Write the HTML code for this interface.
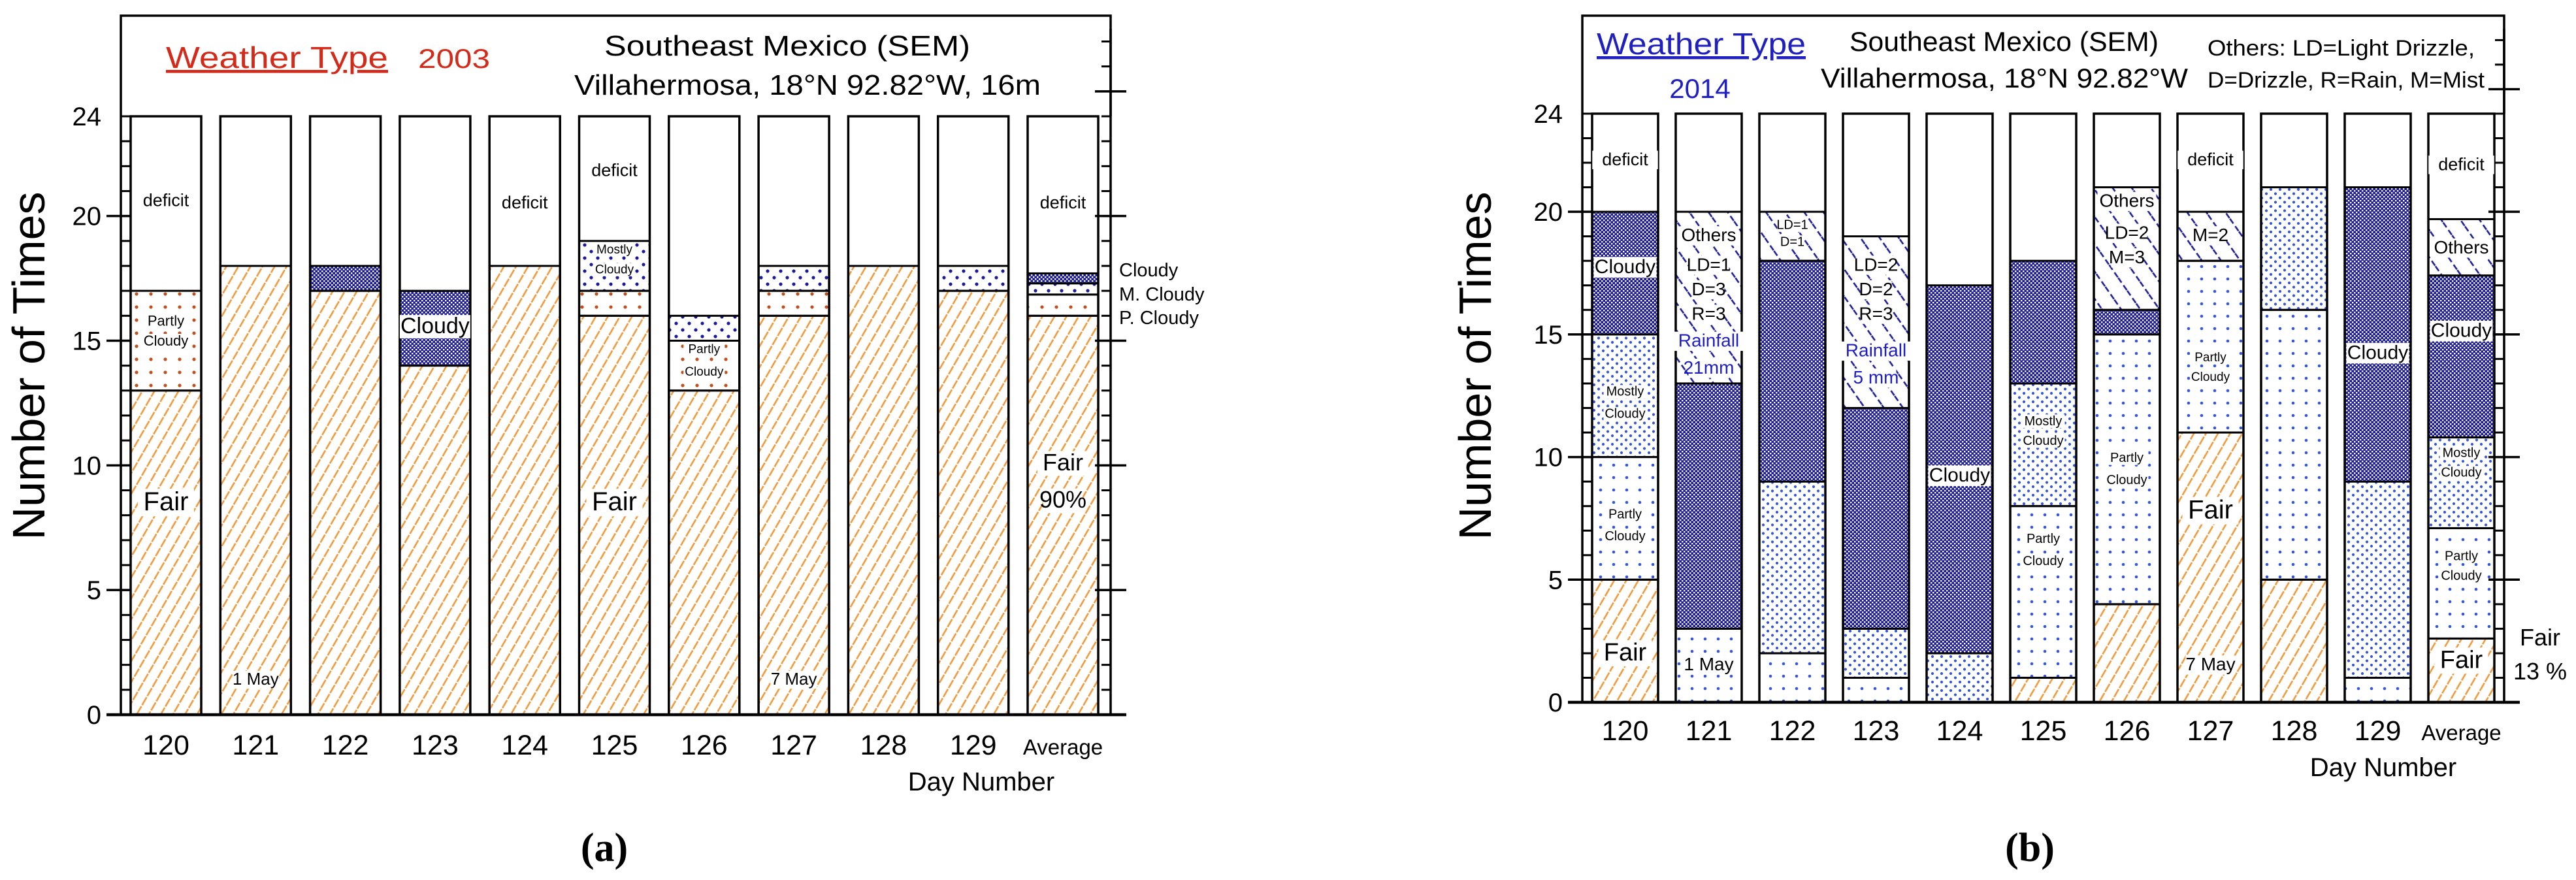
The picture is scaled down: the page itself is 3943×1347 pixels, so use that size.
<!DOCTYPE html>
<html><head><meta charset="utf-8"><style>
html,body{margin:0;padding:0;background:#fff;}
svg{display:block;font-family:"Liberation Sans",sans-serif;}
</style></head><body>
<svg id="fig" width="3943" height="1347" viewBox="0 0 3943 1347" xmlns="http://www.w3.org/2000/svg">
<defs>
<pattern id="pFair" patternUnits="userSpaceOnUse" width="16" height="16" patternTransform="rotate(30)"><line x1="8" y1="0" x2="8" y2="16" stroke="#ef9a3c" stroke-width="2.6" stroke-dasharray="10 2"/></pattern>
<pattern id="pPCa" patternUnits="userSpaceOnUse" width="22" height="20"><circle cx="11" cy="10" r="2.6" fill="#c2501e"/></pattern>
<pattern id="pMCa" patternUnits="userSpaceOnUse" width="20" height="20"><circle cx="5" cy="5" r="2.6" fill="#1a1aa0"/><circle cx="15" cy="15" r="2.6" fill="#1a1aa0"/></pattern>
<pattern id="pCl" patternUnits="userSpaceOnUse" width="6" height="6"><rect width="6" height="6" fill="#1c1c98"/><rect x="0" y="0" width="2.4" height="2.4" fill="#fff"/><rect x="3" y="3" width="2.4" height="2.4" fill="#fff"/></pattern>
<pattern id="pPCb" patternUnits="userSpaceOnUse" width="20" height="19"><circle cx="10" cy="9" r="2.3" fill="#3556d8"/></pattern>
<pattern id="pMCb" patternUnits="userSpaceOnUse" width="14" height="13"><circle cx="4" cy="4" r="2.1" fill="#3556d8"/><circle cx="11" cy="10.5" r="2.1" fill="#3556d8"/></pattern>
<pattern id="pOth" patternUnits="userSpaceOnUse" width="24" height="24" patternTransform="rotate(-35)"><line x1="12" y1="0" x2="12" y2="24" stroke="#1e1e96" stroke-width="2.6" stroke-dasharray="9 5"/></pattern>
</defs>
<g id="panelA"></g>
<g id="panelB"></g>
</svg>
<script>
// ---- data: panel (a) 2003 ----
const daysA = ["120","121","122","123","124","125","126","127","128","129","Average"];
const fairA = [13,18,17,14,18,16,13,16,18,17,16];
const partlyA = [4,0,0,0,0,1,2,1,0,0,0.85];
const mostlyA = [0,0,0,0,0,2,1,1,0,1,0.45];
const cloudyA = [0,0,1,3,0,0,0,0,0,0,0.4];
// ---- data: panel (b) 2014 ----
const daysB = ["120","121","122","123","124","125","126","127","128","129","Average"];
const fairB = [5,0,0,0,0,1,4,11,5,0,2.6];
const partlyB = [5,3,2,1,0,7,11,7,11,1,4.5];
const mostlyB = [5,0,7,2,2,5,0,0,5,8,3.7];
const cloudyB = [5,10,9,9,15,5,1,0,0,12,6.6];
const othersB = [0,7,2,7,0,0,5,2,0,0,2.3];
const yTicks = [0,5,10,15,20,24];
const yMax = 24;

const NS = "http://www.w3.org/2000/svg";
function mk(parent, tag, attrs, text){
  const e = document.createElementNS(NS, tag);
  for (const k in attrs) e.setAttribute(k, attrs[k]);
  if (text !== undefined) e.textContent = text;
  parent.appendChild(e);
  return e;
}

function drawPanel(g, cfg, days, series){
  const yScale = v => cfg.y0 - v * (cfg.y0 - cfg.y24) / yMax;
  const xBar = i => cfg.bar0 + i * cfg.pitch;
  // top frame box
  const box = mk(g, "path", {d:`M${cfg.axL},${cfg.y0} L${cfg.axL},${cfg.top} L${cfg.frameR},${cfg.top} L${cfg.frameR},${cfg.y24}`, fill:"none", stroke:"#000", "stroke-width":3.5});
  
  
  // right axis
  const ra = mk(g, "line", {x1:cfg.axR, y1:cfg.top+20, x2:cfg.axR, y2:cfg.y0, stroke:"#000", "stroke-width":3.5});
  
  
  // bars
  days.forEach((d, i) => {
    const x = xBar(i);
    let base = 0;
    series.forEach(s => {
      const v = s.vals[i];
      if (v > 0) {
        const r = mk(g, "rect", {x:x, y:yScale(base+v), width:cfg.bw, height:yScale(base)-yScale(base+v), fill:`url(#${s.pat})`, stroke:"#000", "stroke-width":3});
        
        
      }
      base += v;
    });
    const out = mk(g, "rect", {x:x, y:yScale(yMax), width:cfg.bw, height:yScale(0)-yScale(yMax), fill:"none", stroke:"#000", "stroke-width":3.5});
    
    
    const xl = mk(g, "text", {x:x+cfg.bw/2, y:cfg.xlabY, "text-anchor":"middle", "font-size": d==="Average"?33:43}, d);
    
    
  });
  // minor ticks
  for (let v = 0; v <= 27; v++) {
    const y = yScale(v);
    if (v <= 24) mk(g, "line", {x1:cfg.axL, y1:y, x2:cfg.axL+14, y2:y, stroke:"#000", "stroke-width":3});
    mk(g, "line", {x1:cfg.axR-14, y1:y, x2:cfg.axR, y2:y, stroke:"#000", "stroke-width":3});
  }
  [5,10,15,20,25].forEach(v => {
    const y = yScale(v);
    if (v < 24) mk(g, "line", {x1:cfg.axL-22, y1:y, x2:cfg.axL+14, y2:y, stroke:"#000", "stroke-width":3.5});
    mk(g, "line", {x1:cfg.axR-24, y1:y, x2:cfg.axR+24, y2:y, stroke:"#000", "stroke-width":3.5});
  });
  yTicks.forEach(v => {
    const t = mk(g, "text", {x:cfg.axL-30, y:yScale(v)+14, "text-anchor":"end", "font-size":40}, String(v));
    
    
  });
  // bottom axis
  const ba = mk(g, "line", {x1:cfg.axL-22, y1:cfg.y0, x2:cfg.axR+24, y2:cfg.y0, stroke:"#000", "stroke-width":4.5});
  
  
  // y title
  const yt = mk(g, "text", {x:0, y:0, "text-anchor":"middle", "font-size":70, transform:`translate(${cfg.yTitleX},${cfg.yTitleY}) rotate(-90)`}, "Number of Times");
  
  
  const xt = mk(g, "text", {x:cfg.dayX, y:cfg.dayY, "text-anchor":"middle", "font-size":40}, "Day Number");
  
  
  // in-bar labels
  cfg.labels.forEach(L => {
    const [i, v, txt, fs, col, bg] = L;
    const cx = xBar(i) + cfg.bw/2, cy = yScale(v);
    if (bg) {
      const w = txt.length * fs * 0.5 + 6;
      mk(g, "rect", {x:cx-w/2, y:cy-fs*0.82, width:w, height:fs*1.05, fill:"#fff"});
    }
    const t = mk(g, "text", {x:cx, y:cy, "text-anchor":"middle", "font-size":fs, fill:col||"#000"}, txt);
    
    
  });
}

const gA = document.getElementById("panelA");
drawPanel(gA, {axL:185, axR:1700, frameR:1700, top:24, y0:1094, y24:178, bar0:200, pitch:137.3, bw:108,
  xlabY:1155, yTitleX:68, yTitleY:560, dayX:1502, dayY:1210,
  labels:[
    [0,20.4,"deficit",27,0,1],[0,15.6,"Partly",22,0,1],[0,14.8,"Cloudy",22,0,1],[0,8.2,"Fair",40,0,1],
    [1,1.2,"1 May",26,0,1],[3,15.3,"Cloudy",34,0,1],[4,20.3,"deficit",27,0,1],
    [5,21.6,"deficit",27,0,1],[5,18.5,"Mostly",19,0,1],[5,17.7,"Cloudy",19,0,1],[5,8.2,"Fair",40,0,1],
    [6,14.5,"Partly",19,0,1],[6,13.6,"Cloudy",19,0,1],[7,1.2,"7 May",26,0,1],
    [10,20.3,"deficit",27,0,1],[10,9.8,"Fair",36,0,1],[10,8.3,"90%",36,0,1]
  ]}, daysA, [
  {name:"fair", vals:fairA, pat:"pFair"},
  {name:"partly-cloudy", vals:partlyA, pat:"pPCa"},
  {name:"mostly-cloudy", vals:mostlyA, pat:"pMCa"},
  {name:"cloudy", vals:cloudyA, pat:"pCl"}]);

const gB = document.getElementById("panelB");
drawPanel(gB, {axL:2422, axR:3833, frameR:3833, top:24, y0:1075, y24:174, bar0:2437, pitch:128, bw:101,
  xlabY:1133, yTitleX:2282, yTitleY:560, dayX:3648, dayY:1188,
  labels:[
    [0,21.9,"deficit",27,0,1],[0,17.5,"Cloudy",30,0,1],[0,12.5,"Mostly",20,0,1],[0,11.6,"Cloudy",20,0,1],
    [0,7.5,"Partly",20,0,1],[0,6.6,"Cloudy",20,0,1],[0,1.7,"Fair",38,0,1],
    [1,18.8,"Others",28,0,1],[1,17.6,"LD=1",28,0,1],[1,16.6,"D=3",28,0,1],[1,15.6,"R=3",28,0,1],
    [1,14.5,"Rainfall",28,"#1e1ec8",1],[1,13.4,"21mm",28,"#1e1ec8",1],[1,1.3,"1 May",28,0,1],
    [2,19.3,"LD=1",20,0,1],[2,18.6,"D=1",20,0,1],
    [3,17.6,"LD=2",28,0,1],[3,16.6,"D=2",28,0,1],[3,15.6,"R=3",28,0,1],
    [3,14.1,"Rainfall",28,"#1e1ec8",1],[3,13.0,"5 mm",28,"#1e1ec8",1],
    [4,9.0,"Cloudy",30,0,1],
    [5,11.3,"Mostly",20,0,1],[5,10.5,"Cloudy",20,0,1],[5,6.5,"Partly",20,0,1],[5,5.6,"Cloudy",20,0,1],
    [6,20.2,"Others",28,0,1],[6,18.9,"LD=2",28,0,1],[6,17.9,"M=3",28,0,1],[6,9.8,"Partly",20,0,1],[6,8.9,"Cloudy",20,0,1],
    [7,21.9,"deficit",27,0,1],[7,18.8,"M=2",28,0,1],[7,13.9,"Partly",19,0,1],[7,13.1,"Cloudy",19,0,1],[7,7.5,"Fair",40,0,1],[7,1.3,"7 May",28,0,1],
    [9,14.0,"Cloudy",30,0,1],
    [10,21.7,"deficit",27,0,1],[10,18.3,"Others",28,0,1],[10,14.9,"Cloudy",30,0,1],
    [10,10.0,"Mostly",20,0,1],[10,9.2,"Cloudy",20,0,1],[10,5.8,"Partly",20,0,1],[10,5.0,"Cloudy",20,0,1],[10,1.4,"Fair",38,0,1]
  ]}, daysB, [
  {name:"fair", vals:fairB, pat:"pFair"},
  {name:"partly-cloudy", vals:partlyB, pat:"pPCb"},
  {name:"mostly-cloudy", vals:mostlyB, pat:"pMCb"},
  {name:"cloudy", vals:cloudyB, pat:"pCl"},
  {name:"others", vals:othersB, pat:"pOth"}]);
</script>
<svg width="0" height="0" style="position:absolute"></svg>
<script>
(function(){
  const s = document.getElementById("fig");
  const NS = "http://www.w3.org/2000/svg";
  function t(x,y,txt,fs,attrs,name){
    const e = document.createElementNS(NS,"text");
    e.setAttribute("x",x); e.setAttribute("y",y); e.setAttribute("font-size",fs);
    for (const k in (attrs||{})) e.setAttribute(k, attrs[k]);
    e.textContent = txt;
    
    
    s.appendChild(e); return e;
  }
  // panel a header
  t(254,104,"Weather Type",46,{fill:"#d42a1a","text-decoration":"underline",textLength:340,lengthAdjust:"spacingAndGlyphs"},"title-a");
  t(640,104,"2003",42,{fill:"#d42a1a",textLength:110,lengthAdjust:"spacingAndGlyphs"},"year-a");
  t(925,85,"Southeast Mexico (SEM)",44,{textLength:560,lengthAdjust:"spacingAndGlyphs"},"region-a");
  t(879,145,"Villahermosa, 18°N 92.82°W, 16m",44,{textLength:714,lengthAdjust:"spacingAndGlyphs"},"station-a");
  t(1713,423,"Cloudy",29,{},"right-label-cloudy");
  t(1713,460,"M. Cloudy",29,{},"right-label-mostly-cloudy");
  t(1713,496,"P. Cloudy",29,{},"right-label-partly-cloudy");
  t(925,1318,"(a)",62,{"text-anchor":"middle","font-family":"Liberation Serif, serif","font-weight":"bold"},"panel-label-a");
  // panel b header
  t(2444,83,"Weather Type",46,{fill:"#2020c0","text-decoration":"underline",textLength:320,lengthAdjust:"spacingAndGlyphs"},"title-b");
  t(2602,150,"2014",42,{fill:"#2020c0","text-anchor":"middle"},"year-b");
  t(2831,78,"Southeast Mexico (SEM)",42,{textLength:473,lengthAdjust:"spacingAndGlyphs"},"region-b");
  t(2787,134,"Villahermosa, 18°N 92.82°W",42,{textLength:562,lengthAdjust:"spacingAndGlyphs"},"station-b");
  t(3379,85,"Others: LD=Light Drizzle,",34,{textLength:409,lengthAdjust:"spacingAndGlyphs"},"others-legend-1");
  t(3379,134,"D=Drizzle, R=Rain, M=Mist",34,{textLength:424,lengthAdjust:"spacingAndGlyphs"},"others-legend-2");
  t(3888,988,"Fair",36,{"text-anchor":"middle"},"right-label-fair");
  t(3888,1040,"13 %",36,{"text-anchor":"middle"},"right-label-fair-pct");
  t(3107,1318,"(b)",62,{"text-anchor":"middle","font-family":"Liberation Serif, serif","font-weight":"bold"},"panel-label-b");
})();
</script>
</body></html>
